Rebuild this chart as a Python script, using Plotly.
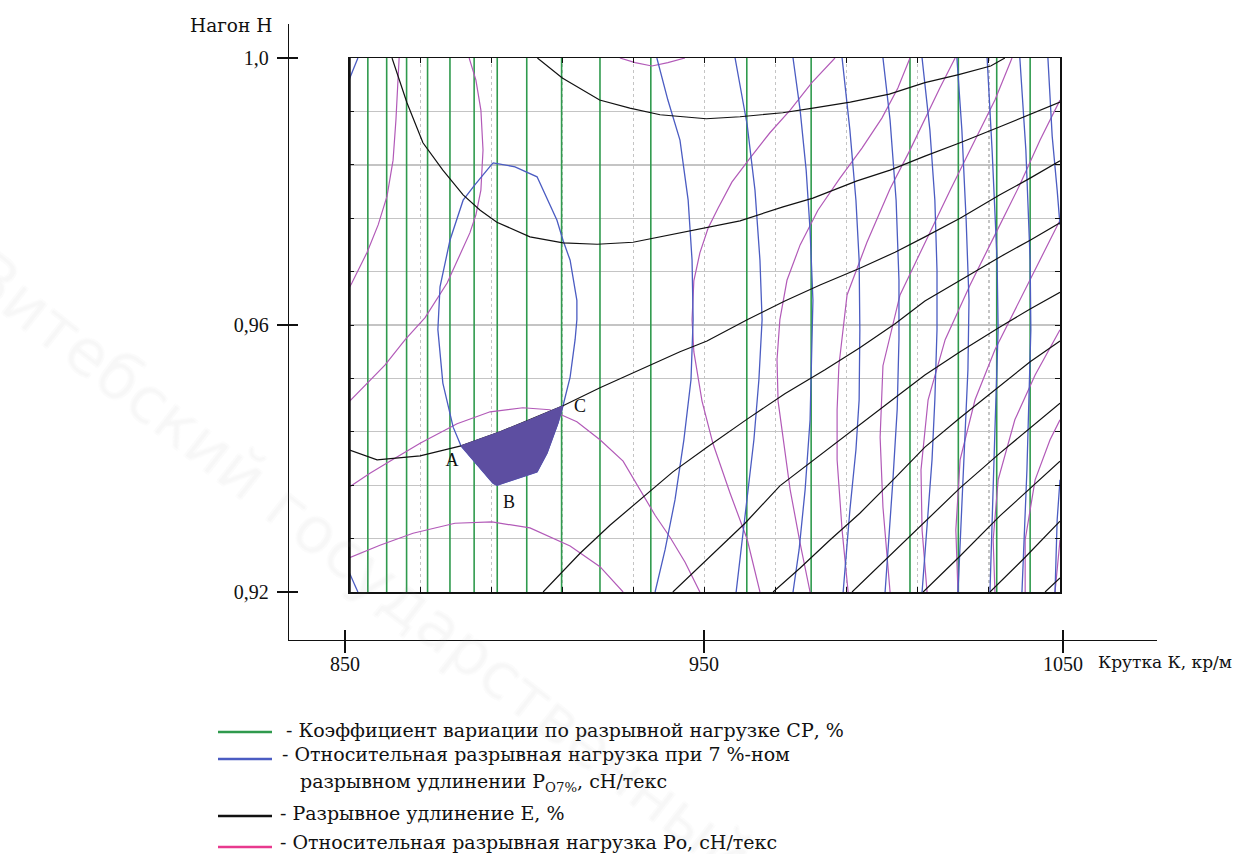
import plotly.graph_objects as go

# ---------------- data (K = крутка, кр/м ; H = нагон) ----------------
# Коэффициент вариации CP (green) - vertical isolines, K positions
CP_K = [855.3, 860.6, 866.2, 872.1, 878.4, 885.2, 891.7, 900.0, 909.8, 920.6,
        934.9, 961.9, 980.0, 1007.8, 1021.4, 1032.2, 1041.6]

# Разрывное удлинение E (black)
E1_K = [903, 910, 920.5, 929, 937.5, 950.5, 960, 972, 980.5, 991, 1002, 1012, 1021.5, 1030.5, 1034.5]
E1_H = [1.0, 0.997, 0.9937, 0.9925, 0.9915, 0.9909, 0.9912, 0.9918, 0.9925, 0.9934, 0.9946, 0.9963, 0.9975, 0.9988, 1.0]
E2_K = [862.1, 866.3, 870.8, 876.4, 882.1, 886.9, 891.6, 900.9, 910.2, 919.8, 929.9, 943.1, 950.7, 960.0,
        972.1, 980.5, 992.9, 1002.2, 1012.0, 1021.9, 1033.1, 1041.6, 1050]
E2_H = [1.0, 0.9933, 0.9873, 0.9832, 0.9795, 0.9772, 0.9754, 0.9732, 0.9723, 0.9721, 0.9724, 0.9738, 0.9745, 0.9756,
        0.9777, 0.9790, 0.9816, 0.9832, 0.9853, 0.9873, 0.9897, 0.9916, 0.9934]
E3_K = [850, 857.9, 870.0, 881.5, 892.5, 900.9, 910.2, 920.6, 931.9, 943.1, 950.7, 962.0, 972.6, 982.5,
        993.7, 1003.6, 1012.0, 1021.9, 1033.1, 1041.6, 1050]
E3_H = [0.9413, 0.9398, 0.9404, 0.9419, 0.9440, 0.9458, 0.9479, 0.9506, 0.9533, 0.9560, 0.9576, 0.9608, 0.9636, 0.9660,
        0.9685, 0.9709, 0.9732, 0.9760, 0.9795, 0.9820, 0.9846]
E4_K = [904.6, 915.0, 923.4, 931.9, 941.1, 950.7, 962.0, 972.6, 983.9, 993.7, 1003.6, 1012.0, 1021.9, 1033.1, 1041.6, 1050]
E4_H = [0.92, 0.9258, 0.9300, 0.9339, 0.9380, 0.9417, 0.9459, 0.9497, 0.9533, 0.9566, 0.9602, 0.9636, 0.9667, 0.9702, 0.9727, 0.9753]
E5_K = [941.1, 950.1, 961.4, 971.2, 982.5, 993.7, 1003.6, 1012.0, 1021.9, 1033.1, 1041.6, 1050]
E5_H = [0.92, 0.9245, 0.9303, 0.9359, 0.9405, 0.9452, 0.9491, 0.9525, 0.9560, 0.9597, 0.9624, 0.9649]
E6_K = [969.3, 976.9, 985.3, 993.7, 1003.6, 1012.0, 1021.9, 1033.1, 1041.6, 1050]
E6_H = [0.92, 0.9236, 0.9278, 0.9318, 0.9371, 0.9417, 0.9461, 0.9509, 0.9545, 0.9576]
E7_K = [991.5, 1002.2, 1012.0, 1021.9, 1033.1, 1041.6, 1050]
E7_H = [0.92, 0.9255, 0.9306, 0.9356, 0.9408, 0.9446, 0.9483]
E8_K = [1011.5, 1021.9, 1033.1, 1041.6, 1050]
E8_H = [0.92, 0.9254, 0.9314, 0.9356, 0.9396]
E9_K = [1030.3, 1040.2, 1050]
E9_H = [0.92, 0.9252, 0.9306]
E10_K = [1045.8, 1050]
E10_H = [0.92, 0.9221]

# Относительная разрывная нагрузка Po (magenta)
P1_K = [850, 850.8, 855.1, 858.2, 860.7, 862.4, 863.2, 863.8, 864.1]
P1_H = [0.9655, 0.9663, 0.9709, 0.9750, 0.9793, 0.9847, 0.9907, 0.9960, 1.0]
P2_K = [883.8, 885.7, 887.1, 887.7, 887.1, 885.7, 884.0, 881.2, 877.6, 871.4, 865.8, 860.1, 854.5, 850]
P2_H = [1.0, 0.9967, 0.9922, 0.9862, 0.9802, 0.9765, 0.9738, 0.9705, 0.9663, 0.9611, 0.9578, 0.9540, 0.9510, 0.9485]
P3_K = [926.2, 930.5, 935.2, 939.7, 944.5]
P3_H = [1.0, 0.9993, 0.9988, 0.9993, 1.0]
P4_K = [850, 855.9, 861.5, 870.0, 880.4, 889.7, 898.9, 906.5, 914.1, 920.6, 927.1, 931.9, 936.1, 940.3, 944.5, 948.7]
P4_H = [0.9357, 0.9378, 0.9396, 0.9423, 0.9452, 0.9470, 0.9476, 0.9473, 0.9455, 0.9428, 0.9396, 0.9353, 0.9315, 0.9282, 0.9245, 0.92]
P5_K = [850, 858.7, 868.0, 879.8, 890.2, 900.9, 912.2, 920.6, 927.1]
P5_H = [0.9251, 0.9270, 0.9288, 0.9303, 0.9305, 0.9296, 0.9269, 0.9238, 0.92]
P6_K = [965.6, 962.0, 957.2, 952.4, 949.3, 947.0, 946.5, 947.0, 948.7, 951.0, 953.8, 957.7, 962.8, 968.4, 974.1, 980.2, 986.7]
P6_H = [0.92, 0.9279, 0.9348, 0.9422, 0.9486, 0.9560, 0.9608, 0.9666, 0.9708, 0.9745, 0.9775, 0.9814, 0.9850, 0.9888, 0.9922, 0.9963, 1.0]
P7_K = [979.7, 976.9, 974.1, 972.1, 970.7, 970.4, 971.2, 973.2, 976.9, 981.9, 988.1, 994.3, 999.9, 1004.4, 1007.8]
P7_H = [0.92, 0.9273, 0.9353, 0.9432, 0.9486, 0.9548, 0.9608, 0.9667, 0.9720, 0.9772, 0.9820, 0.9865, 0.9910, 0.9955, 1.0]
P8_K = [990.4, 988.7, 987.3, 987.3, 987.8, 990.1, 995.7, 1002.2, 1007.8, 1012.0, 1016.2, 1020.5]
P8_H = [0.92, 0.9293, 0.9398, 0.9473, 0.9539, 0.9645, 0.9724, 0.9804, 0.9862, 0.9909, 0.9955, 1.0]
P9_K = [1002.2, 1000.2, 999.4, 1000.2, 1005.0, 1012.0, 1019.1, 1026.1, 1031.7, 1036.5]
P9_H = [0.92, 0.9327, 0.9432, 0.9539, 0.9645, 0.9724, 0.9802, 0.9877, 0.9937, 1.0]
P10_K = [1012.6, 1011.2, 1010.9, 1012.9, 1017.7, 1024.7, 1031.7, 1038.7, 1044.4, 1050]
P10_H = [0.92, 0.9293, 0.9383, 0.9488, 0.9578, 0.9660, 0.9735, 0.9810, 0.9877, 0.9937]
P11_K = [1021.3, 1020.7, 1021.9, 1026.1, 1031.7, 1038.7, 1044.4, 1050]
P11_H = [0.92, 0.9293, 0.9398, 0.9488, 0.9563, 0.9637, 0.9697, 0.9757]
P12_K = [1031.7, 1031.2, 1032.6, 1037.3, 1043.0, 1050]
P12_H = [0.92, 0.9278, 0.9368, 0.9458, 0.9525, 0.9593]
P13_K = [1040.2, 1040.2, 1043.0, 1047.2, 1050]
P13_H = [0.92, 0.9278, 0.9368, 0.9428, 0.9458]
P14_K = [1048.6, 1049.4, 1050]
P14_H = [0.92, 0.9248, 0.9278]

# Относительная разрывная нагрузка при 7 %-ном удлинении Po7% (blue)
Q1_K = [850, 851.1, 852.5]
Q1_H = [0.9967, 0.9982, 1.0]
Q2_K = [890.5, 896.7, 902.9, 908.5, 910.2, 912.2, 914.1, 914.1, 913.6, 912.2, 910.2, 908.8, 905.7, 902.9,
        891.6, 890.5, 881.5, 879.3, 876.4, 875.0, 875.6, 878.4, 882.1, 885.4, 890.5]
Q2_H = [0.9843, 0.9837, 0.9822, 0.9757, 0.9727, 0.9697, 0.9637, 0.9608, 0.9578, 0.9522, 0.9479, 0.9453, 0.9408, 0.9380,
        0.9360, 0.9363, 0.9419, 0.9447, 0.9513, 0.9593, 0.9657, 0.9727, 0.9787, 0.9810, 0.9843]
Q3_K = [936.6, 939.7, 943.1, 945.4, 946.5, 946.8, 946.2, 944.2, 941.7, 938.9, 936.1]
Q3_H = [1.0, 0.9937, 0.9877, 0.9787, 0.9697, 0.9608, 0.9518, 0.9428, 0.9338, 0.9263, 0.92]
Q4_K = [958.6, 962.0, 964.2, 965.6, 966.2, 965.3, 963.9, 962.0, 960.3, 958.9]
Q4_H = [1.0, 0.9900, 0.9802, 0.9697, 0.9608, 0.9518, 0.9428, 0.9338, 0.9263, 0.92]
Q5_K = [974.9, 976.9, 978.6, 979.7, 980.5, 980.2, 979.7, 978.3, 976.6, 974.9]
Q5_H = [1.0, 0.9922, 0.9832, 0.9742, 0.9637, 0.9548, 0.9458, 0.9353, 0.9263, 0.92]
Q6_K = [988.7, 990.9, 992.6, 993.5, 993.7, 993.5, 992.6, 990.9, 989.0]
Q6_H = [1.0, 0.9892, 0.9787, 0.9697, 0.9593, 0.9488, 0.9413, 0.9323, 0.92]
Q7_K = [1000.2, 1002.2, 1003.9, 1004.7, 1004.7, 1004.2, 1003.0, 1001.9, 1000.8]
Q7_H = [1.0, 0.9907, 0.9787, 0.9667, 0.9578, 0.9473, 0.9368, 0.9278, 0.92]
Q8_K = [1011.2, 1013.4, 1014.8, 1015.4, 1015.4, 1014.8, 1014.0, 1012.6, 1011.2]
Q8_H = [1.0, 0.9892, 0.9787, 0.9682, 0.9593, 0.9488, 0.9398, 0.9293, 0.92]
Q9_K = [1021.0, 1022.4, 1023.6, 1024.4, 1024.1, 1023.0, 1021.3]
Q9_H = [1.0, 0.9892, 0.9757, 0.9637, 0.9533, 0.9398, 0.92]
Q10_K = [1029.5, 1030.9, 1032.3, 1032.6, 1031.7, 1030.3]
Q10_H = [1.0, 0.9862, 0.9697, 0.9593, 0.9443, 0.92]
Q11_K = [1038.7, 1040.4, 1041.6, 1041.8, 1040.7, 1039.3]
Q11_H = [1.0, 0.9862, 0.9697, 0.9593, 0.9383, 0.92]
Q12_K = [1046.6, 1047.8, 1049.2, 1050]
Q12_H = [1.0, 0.9883, 0.9802, 0.9750]
Q13_K = [1050, 1049.2, 1048.6]
Q13_H = [0.9368, 0.9308, 0.92]
Q14_K = [850, 852.5]
Q14_H = [0.9230, 0.92]

# Область оптимальных значений ABC
ABC_K = [881.5, 892.5, 900.9, 910.2, 908.8, 905.7, 902.9, 891.6, 890.5]
ABC_H = [0.9419, 0.9440, 0.9458, 0.9479, 0.9453, 0.9408, 0.9380, 0.9360, 0.9363]
POINT_NAMES = ["A", "B", "C"]
POINT_K = [879.0, 895.0, 915.0]
POINT_H = [0.9395, 0.9333, 0.9476]

X_TICKS = [850, 950, 1050]
X_TICKTEXT = ["850", "950", "1050"]
Y_TICKS = [0.92, 0.96, 1.0]
Y_TICKTEXT = ["0,92", "0,96", "1,0"]

LEGEND_TEXT = [
    "- Коэффициент вариации по разрывной нагрузке СР, %",
    "- Относительная разрывная нагрузка при 7 %-ном",
    "разрывном удлинении Р<sub>О7%</sub>, сН/текс",
    "- Разрывное удлинение Е, %",
    "- Относительная разрывная нагрузка Ро, сН/текс",
]
WATERMARK = "Витебский государственный"

# ---------------- styling ----------------
GREEN = "#2f9a4d"
BLUE = "#4b5cc2"
MAGENTA = "#b25ab8"
BLACK = "#111111"
FILL = "#5d4ea1"
SERIF = "Liberation Serif"
WSERIF = "DejaVu Serif"

W, HGT = 1242, 854


def px(xp):
    return xp / W


def py(yp):
    return 1 - yp / HGT


fig = go.Figure()

# green verticals
gx, gy = [], []
for k in CP_K:
    gx += [k, k, None]
    gy += [0.92, 1.0, None]
fig.add_trace(go.Scatter(x=gx, y=gy, mode="lines", line=dict(color=GREEN, width=1.6),
                         xaxis="x2", yaxis="y2", hoverinfo="skip", showlegend=False))


def add_family(curves, color, width):
    xs, ys = [], []
    for kk, hh in curves:
        xs += list(kk) + [None]
        ys += list(hh) + [None]
    fig.add_trace(go.Scatter(x=xs, y=ys, mode="lines", line=dict(color=color, width=width),
                             xaxis="x2", yaxis="y2", hoverinfo="skip", showlegend=False))


add_family([(P1_K, P1_H), (P2_K, P2_H), (P3_K, P3_H), (P4_K, P4_H), (P5_K, P5_H), (P6_K, P6_H),
            (P7_K, P7_H), (P8_K, P8_H), (P9_K, P9_H), (P10_K, P10_H), (P11_K, P11_H), (P12_K, P12_H),
            (P13_K, P13_H), (P14_K, P14_H)], MAGENTA, 1.2)
add_family([(Q1_K, Q1_H), (Q2_K, Q2_H), (Q3_K, Q3_H), (Q4_K, Q4_H), (Q5_K, Q5_H), (Q6_K, Q6_H),
            (Q7_K, Q7_H), (Q8_K, Q8_H), (Q9_K, Q9_H), (Q10_K, Q10_H), (Q11_K, Q11_H), (Q12_K, Q12_H),
            (Q13_K, Q13_H), (Q14_K, Q14_H)], BLUE, 1.3)
add_family([(E1_K, E1_H), (E2_K, E2_H), (E3_K, E3_H), (E4_K, E4_H), (E5_K, E5_H), (E6_K, E6_H),
            (E7_K, E7_H), (E8_K, E8_H), (E9_K, E9_H), (E10_K, E10_H)], BLACK, 1.2)

fig.add_trace(go.Scatter(x=ABC_K + [ABC_K[0]], y=ABC_H + [ABC_H[0]], mode="lines", fill="toself",
                         fillcolor=FILL, line=dict(color=FILL, width=1),
                         xaxis="x2", yaxis="y2", hoverinfo="skip", showlegend=False))
fig.add_trace(go.Scatter(x=POINT_K, y=POINT_H, mode="text", text=POINT_NAMES,
                         textfont=dict(family=SERIF, size=18, color="#111"),
                         xaxis="x2", yaxis="y2", hoverinfo="skip", showlegend=False))

# empty traces so that the outer axes are drawn
fig.add_trace(go.Scatter(x=[None], y=[None], xaxis="x", yaxis="y", showlegend=False, hoverinfo="skip"))
fig.add_trace(go.Scatter(x=[None], y=[None], xaxis="x3", yaxis="y3", showlegend=False, hoverinfo="skip"))

# outer axes geometry (pixels -> paper)
X0_PX, X1_PX = 289, 1157
Y_TOP_PX, Y_BOT_PX = 24, 640
xr = [850 + (X0_PX - 345) * 200 / 718, 850 + (X1_PX - 345) * 200 / 718]
yr = [0.92 - (Y_BOT_PX - 592) * 0.08 / 534, 1.0 + (58 - Y_TOP_PX) * 0.08 / 534]
xdom = [px(X0_PX), px(X1_PX)]
ydom = [py(Y_BOT_PX), py(Y_TOP_PX)]

axfont = dict(family=SERIF, size=20, color="#111")
fig.update_layout(
    width=W, height=HGT, margin=dict(l=0, r=0, t=0, b=0),
    paper_bgcolor="white", plot_bgcolor="rgba(0,0,0,0)",
    showlegend=False,
    xaxis=dict(domain=xdom, range=xr, anchor="y", showline=True, linecolor=BLACK, linewidth=1.3,
               ticks="outside", ticklen=12, tickwidth=1.3, tickcolor=BLACK, tickvals=X_TICKS,
               ticktext=X_TICKTEXT, tickfont=axfont, showgrid=False, zeroline=False,
               ticklabelstandoff=-6, fixedrange=True),
    yaxis=dict(domain=ydom, range=yr, anchor="x", showline=True, linecolor=BLACK, linewidth=1.3,
               ticks="outside", ticklen=11, tickwidth=1.3, tickcolor=BLACK, tickvals=Y_TICKS,
               ticktext=Y_TICKTEXT, tickfont=axfont, showgrid=False, zeroline=False,
               ticklabelstandoff=4, fixedrange=True),
    xaxis3=dict(domain=xdom, range=xr, anchor="y3", overlaying="x", ticks="inside", ticklen=10,
                tickwidth=1.3, tickcolor=BLACK, tickvals=X_TICKS, showticklabels=False,
                showgrid=False, zeroline=False, showline=False),
    yaxis3=dict(domain=ydom, range=yr, anchor="x3", overlaying="y", ticks="inside", ticklen=9,
                tickwidth=1.3, tickcolor=BLACK, tickvals=Y_TICKS, showticklabels=False,
                showgrid=False, zeroline=False, showline=False),
    xaxis2=dict(domain=[px(349), px(1060)], range=[850, 1050], anchor="y2", showline=True, mirror="ticks",
                linecolor=BLACK, linewidth=1.5, ticks="inside", ticklen=5, tickcolor=BLACK,
                dtick=20, tick0=850, showticklabels=False, showgrid=True, gridcolor="#c4c4c4",
                griddash="dot", gridwidth=1.2, zeroline=False),
    yaxis2=dict(domain=[py(592), py(58)], range=[0.92, 1.0], anchor="x2", showline=True, mirror="ticks",
                linecolor=BLACK, linewidth=1.5, ticks="inside", ticklen=5, tickcolor=BLACK,
                dtick=0.008, tick0=0.92, showticklabels=False, showgrid=True, gridcolor="#c4c4c4",
                gridwidth=1.4, zeroline=False),
)

shapes = [
    dict(type="line", xref="x2", yref="y2 domain", x0=850, x1=850, y0=0, y1=1,
         line=dict(color=BLACK, width=3.5)),
]
annotations = [
    dict(text="Нагон Н", x=px(231), y=py(25), xref="paper", yref="paper", showarrow=False,
         xanchor="center", yanchor="middle", font=dict(family=WSERIF, size=18.5, color="#111")),
    dict(text="Крутка К, кр/м", x=px(1096), y=py(662), xref="paper", yref="paper", showarrow=False,
         xanchor="left", yanchor="middle", font=dict(family=WSERIF, size=17, color="#111")),
]

# legend (drawn manually)
leg_colors = [GREEN, BLUE, BLACK, "#e8398e"]
leg_line_y = [732, 759, 816, 847]
for c, yy in zip(leg_colors, leg_line_y):
    shapes.append(dict(type="line", xref="paper", yref="paper", x0=px(218), x1=px(272),
                       y0=py(yy), y1=py(yy), line=dict(color=c, width=2.5)))
leg_text_pos = [(284, 730), (280, 754), (298, 782), (278, 813), (278, 842)]
for t, (xx, yy) in zip(LEGEND_TEXT, leg_text_pos):
    annotations.append(dict(text=t, x=px(xx), y=py(yy), xref="paper", yref="paper", showarrow=False,
                            xanchor="left", yanchor="middle", font=dict(family=WSERIF, size=19, color="#111")))

# watermark (outlined grey letters)
annotations.append(dict(text=WATERMARK, x=px(360), y=py(565), xref="paper", yref="paper",
                        xanchor="center", yanchor="middle",
                        showarrow=False, textangle=38,
                        font=dict(family="DejaVu Sans", size=64, color="rgba(255,255,255,0.02)",
                                  shadow="1px 1px 0 #9a9a9a, -1px -1px 0 #9a9a9a, 1px -1px 0 #9a9a9a, -1px 1px 0 #9a9a9a")))

fig.update_layout(shapes=shapes, annotations=annotations)
fig.write_html("out.html", config={"displayModeBar": False, "staticPlot": True},
               post_script="document.body.style.margin='0px';")
